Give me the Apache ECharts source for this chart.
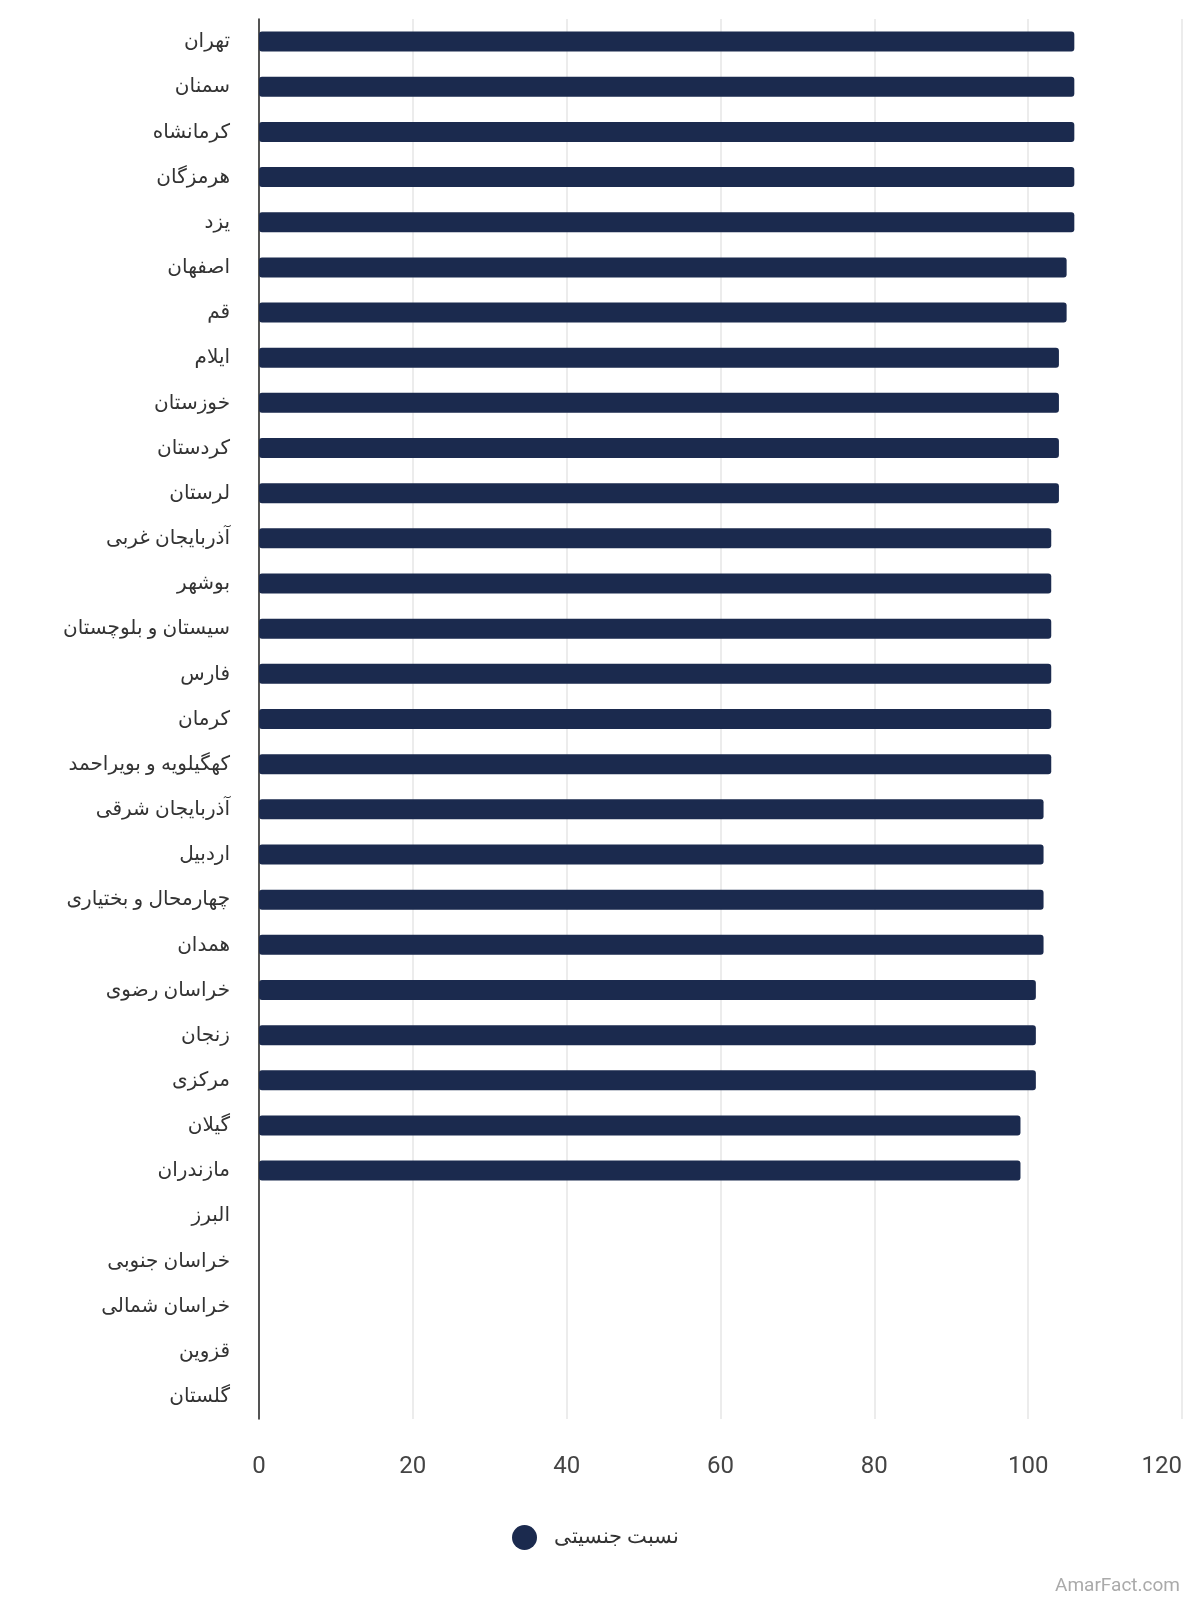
<!DOCTYPE html>
<html><head><meta charset="utf-8">
<script src="https://cdn.jsdelivr.net/npm/echarts@6/dist/echarts.min.js"></script>
<style>html,body{margin:0;padding:0;background:#fff}#c{width:1200px;height:1600px}</style>
</head><body><div id="c"></div>
<script>
const categories = ["تهران","سمنان","کرمانشاه","هرمزگان","یزد","اصفهان","قم","ایلام","خوزستان","کردستان","لرستان","آذربایجان غربی","بوشهر","سیستان و بلوچستان","فارس","کرمان","کهگیلویه و بویراحمد","آذربایجان شرقی","اردبیل","چهارمحال و بختیاری","همدان","خراسان رضوی","زنجان","مرکزی","گیلان","مازندران","البرز","خراسان جنوبی","خراسان شمالی","قزوین","گلستان"];
const values = [106,106,106,106,106,105,105,104,104,104,104,103,103,103,103,103,103,102,102,102,102,101,101,101,99,99,null,null,null,null,null];
const seriesName = "نسبت جنسیتی";
const chart = echarts.init(document.getElementById('c'));
chart.setOption({
  animation:false,
  textStyle:{fontFamily:'Roboto, "Noto Sans", sans-serif'},
  grid:{left:259,right:18,top:19,bottom:181},
  xAxis:{type:'value',min:0,max:120,interval:20,
    axisLine:{show:false},axisTick:{show:false},
    axisLabel:{fontSize:24,color:'#444',margin:36,alignMaxLabel:'right'},
    splitLine:{lineStyle:{color:'#e6e6e6',width:1.5}}},
  yAxis:{type:'category',inverse:true,data:categories,
    axisLine:{lineStyle:{color:'#222',width:1.5}},axisTick:{show:false},
    axisLabel:{fontSize:20,color:'#333',margin:29,fontFamily:'"Noto Sans", "DejaVu Sans", sans-serif'}},
  legend:{bottom:45,left:507,itemWidth:25,itemHeight:25,icon:'circle',
    textStyle:{fontSize:21,color:'#333',padding:[0,0,0,12],fontFamily:'"Noto Sans", sans-serif'},data:[seriesName]},
  series:[{name:seriesName,type:'bar',data:values,barWidth:20,
    itemStyle:{color:'#1b2a4e',borderRadius:3}}],
  graphic:[{type:'text',right:20,bottom:4,style:{text:'AmarFact.com',fontSize:19,fill:'#aaa',fontFamily:'Roboto'}}]
});
</script></body></html>
